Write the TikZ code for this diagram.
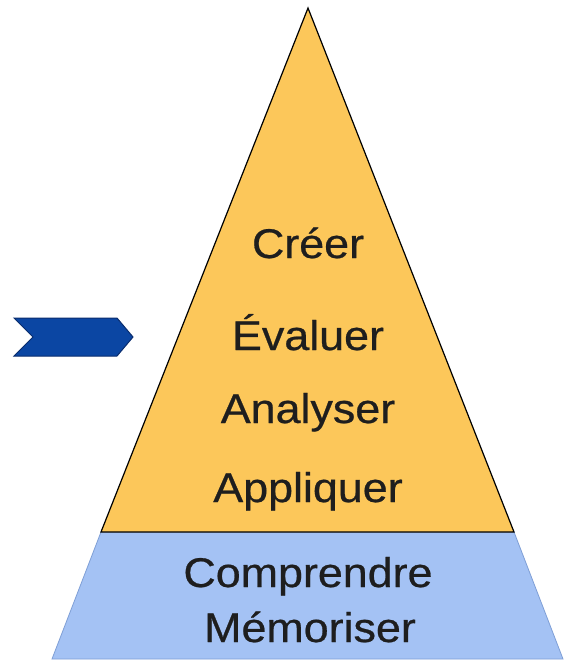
\documentclass[tikz,border=0pt]{standalone}
\usepackage{fontspec}
\setmainfont{Liberation Sans}[FakeStretch=1.08,FakeBold=0.6]
\definecolor{pyellow}{HTML}{FCC75A}
\definecolor{pblue}{HTML}{A4C2F4}
\definecolor{pblueedge}{HTML}{7F9FD6}
\definecolor{chev}{HTML}{0B46A3}
\definecolor{chevedge}{HTML}{0A2D6E}
\definecolor{txt}{HTML}{1E1E1E}
\begin{document}
\begin{tikzpicture}[x=1pt,y=-1pt,
  lbl/.style={anchor=base,text=txt,font=\fontsize{41.5}{44}\selectfont,inner sep=0pt}]
\useasboundingbox (0,0) rectangle (573,669);
\fill[white] (0,0) rectangle (573,669);
% blue trapezoid
\coordinate (bl) at (52,659);
\coordinate (br) at (563,659);
\coordinate (ml) at (101,532);
\coordinate (mr) at (514,532);
\coordinate (apex) at (308,8);
\draw[pblueedge,fill=pblue,line width=0.8pt] (ml) -- (mr) -- (br) -- (bl) -- cycle;
% yellow triangle
\draw[black,fill=pyellow,line width=1.2pt,line join=miter] (apex) -- (mr) -- (ml) -- cycle;
% chevron
\draw[chevedge,fill=chev,line width=1pt] (14,318) -- (117,318) -- (133,337) -- (117,356) -- (14,356) -- (33,337) -- cycle;
% labels
\node[lbl] (c1) at (308,258) {Créer};
\node[lbl] (c2) at (308,350) {Évaluer};
\node[lbl] (c3) at (308,423) {Analyser};
\node[lbl] (c4) at (308,502) {Appliquer};
\node[lbl] (c5) at (308,587) {Comprendre};
\node[lbl] (c6) at (310,642) {Mémoriser};
\end{tikzpicture}
\end{document}
